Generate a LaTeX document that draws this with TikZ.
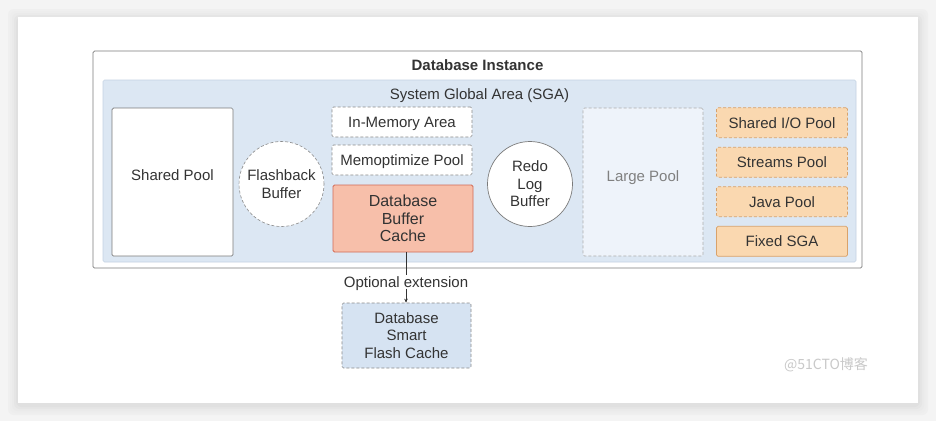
\documentclass[tikz,border=0pt]{standalone}
\usepackage{fontspec}
\setmainfont{Liberation Sans}
\newfontfamily\cjk{Noto Sans CJK SC}
\usetikzlibrary{arrows.meta}
\definecolor{bggrey}{HTML}{F4F4F4}
\definecolor{sgafill}{HTML}{DCE7F3}
\definecolor{sgaline}{HTML}{C5D3E3}
\definecolor{instline}{HTML}{7A7A7A}
\definecolor{dbcfill}{HTML}{F7BFAA}
\definecolor{dbcline}{HTML}{D26A55}
\definecolor{orfill}{HTML}{FAD8B0}
\definecolor{orline}{HTML}{D9A26A}
\definecolor{lpfill}{HTML}{EEF3FA}
\definecolor{dashline}{HTML}{8A8A8A}
\definecolor{sfcfill}{HTML}{D6E3F2}
\definecolor{txt}{HTML}{333333}
\definecolor{wm}{HTML}{C9C9C9}
\tikzset{
  px/.style={x=1pt,y=-1pt},
  lbl/.style={font=\fontsize{15}{17.5}\selectfont, text=txt, align=center, text depth=0pt},
  dashbox/.style={draw=dashline, densely dashed, line width=0.6pt, rounded corners=1.5pt},
  solidbox/.style={draw=instline, line width=0.7pt, rounded corners=1.5pt},
  orpool/.style={fill=orfill, draw=orline, line width=0.7pt, densely dashed, rounded corners=1.5pt},
}
\begin{document}
\begin{tikzpicture}[px]
\useasboundingbox (0,0) rectangle (936,421);
% background and card
\fill[bggrey] (0,0) rectangle (936,421);
\foreach \i/\c in {10/2,8/3,6/4,4/6,2/8}{
  \fill[black!\c!bggrey, rounded corners=6pt] (18-\i,17-\i+2) rectangle (918+\i,403+\i+2);
}
\fill[white] (18,17) rectangle (918,403);
% Database Instance
\draw[solidbox, fill=white] (93,51) rectangle (862,268);
\node[lbl, font=\fontsize{15}{17.5}\selectfont\bfseries] (inst) at (477.5,65.5) {Database Instance};
% SGA
\draw[draw=sgaline, fill=sgafill, line width=0.6pt, rounded corners=1.5pt] (103,80) rectangle (856,262);
\node[lbl] (sga) at (479.5,94) {System Global Area (SGA)};
% Shared Pool
\node[solidbox, fill=white, minimum width=121pt, minimum height=148pt] (shp) at (172.5,182) {};
\node[lbl] (shpt) at (172.5,175.5) {Shared Pool};
% Flashback buffer
\node[circle, dashbox, fill=white, minimum size=85pt, inner sep=0pt, lbl] (fb) at (281.5,184) {Flashback\\Buffer};
% In-memory
\node[dashbox, fill=white, minimum width=140pt, minimum height=30pt, lbl] (ima) at (402,122) {In-Memory Area};
\node[dashbox, fill=white, minimum width=140pt, minimum height=30pt, lbl] (mop) at (402,160) {Memoptimize Pool};
% Database buffer cache
\node[draw=dbcline, fill=dbcfill, line width=0.8pt, rounded corners=1.5pt, minimum width=140pt, minimum height=67pt, lbl, font=\fontsize{16}{17.5}\selectfont] (dbc) at (403,218.5) {Database\\Buffer\\Cache};
% Redo log buffer
\node[circle, draw=instline, line width=0.7pt, fill=white, minimum size=85pt, inner sep=0pt, lbl] (redo) at (530,184) {Redo\\Log\\Buffer};
% Large pool
\node[dashbox, draw=dashline!70, fill=lpfill, minimum width=120pt, minimum height=148pt] (lp) at (643,182) {};
\node[lbl, text=gray] (lpt) at (643,176) {Large Pool};
% orange pools
\node[orpool, minimum width=131pt, minimum height=30pt, lbl] (sio) at (782,122.7) {Shared I/O Pool};
\node[orpool, minimum width=131pt, minimum height=30pt, lbl] (stp) at (782,162.3) {Streams Pool};
\node[orpool, minimum width=131pt, minimum height=30pt, lbl] (jp) at (782,201.7) {Java Pool};
\node[orpool, solid, minimum width=131pt, minimum height=30pt, lbl] (fsga) at (782,241.3) {Fixed SGA};
% Smart flash cache
\node[dashbox, fill=sfcfill, minimum width=129pt, minimum height=65pt, lbl] (sfc) at (406.5,335.5) {Database\\Smart\\Flash Cache};
% connector
\node[lbl, fill=white, inner sep=1pt] (opt) at (406,282) {Optional extension};
\draw[draw=txt, line width=0.6pt] (dbc.south -| 406,0) -- (opt.north -| 406,0);
\draw[draw=txt, line width=0.6pt, -{Stealth[length=4pt,width=3.5pt]}] (opt.south -| 406,0) -- (sfc.north -| 406,0);
% watermark
\node[font=\cjk\fontsize{14}{16}\selectfont, text=wm] (wmk) at (826,365) {@51CTO博客};
\end{tikzpicture}
\end{document}
